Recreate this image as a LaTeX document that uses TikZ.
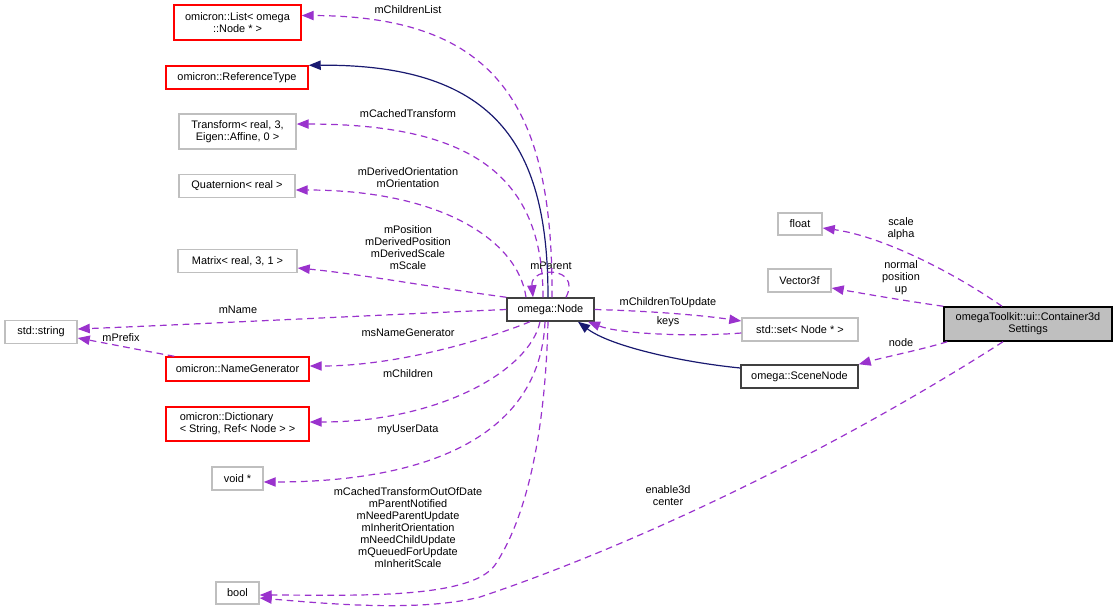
\documentclass[tikz,border=0pt]{standalone}
\usepackage{fontspec}
\setmainfont{Liberation Sans}
\usetikzlibrary{arrows.meta}
\definecolor{edgep}{HTML}{9A32CD}
\definecolor{inh}{HTML}{191970}
\definecolor{grayb}{HTML}{BFBFBF}
\definecolor{fillc}{HTML}{BFBFBF}
\definecolor{nodeb}{HTML}{404040}
\begin{document}
\begin{tikzpicture}[x=0.75pt,y=-0.75pt,
  every node/.style={font=\fontsize{8.2}{9}\selectfont, inner sep=0pt},
  box/.style 2 args={line width=1.1pt, minimum width=#1*0.75pt, minimum height=#2*0.75pt, align=center},
  graybox/.style={draw=grayb},
  redbox/.style={draw=red},
  blackbox/.style={draw=nodeb},
  mainbox/.style={draw=black, fill=fillc},
  lbl/.style={align=center},
  member/.style={draw=edgep, line width=0.9pt, dash pattern=on 5pt off 3.5pt, -{Triangle[length=9pt,width=7pt]}},
  inherit/.style={draw=inh, line width=0.9pt, -{Triangle[length=9pt,width=7pt]}},
]
\useasboundingbox (0,0) rectangle (1117,612);
% boxes
\node[box={127}{35}, redbox] (list) at (237.5,22.5) {omicron::List< omega\\::Node * >};
\node[box={142}{23}, redbox] (reftype) at (237,77.5) {omicron::ReferenceType};
\node[box={117}{35}, graybox] (transform) at (237.5,131.5) {Transform< real, 3,\\Eigen::Affine, 0 >};
\node[box={116}{23}, graybox] (quat) at (237,186) {Quaternion< real >};
\node[box={119}{23}, graybox] (matrix) at (237.5,261) {Matrix< real, 3, 1 >};
\node[box={72}{23}, graybox] (str) at (41,332) {std::string};
\node[box={143}{24}, redbox] (namegen) at (237.5,369) {omicron::NameGenerator};
\node[box={143}{34}, redbox, align=left] (dict) at (237.5,424) {omicron::Dictionary\\< String, Ref< Node > >};
\node[box={51}{23}, graybox] (voidp) at (237.5,478.5) {void *};
\node[box={43}{22}, graybox] (bool) at (237.5,593) {bool};
\node[box={87}{23}, blackbox] (node) at (550.5,309.5) {omega::Node};
\node[box={116}{23}, graybox] (set) at (800,329.5) {std::set< Node * >};
\node[box={117}{23}, blackbox] (scene) at (799.5,376.5) {omega::SceneNode};
\node[box={44}{22}, graybox] (float) at (800,224) {float};
\node[box={63}{23}, graybox] (vec) at (799.5,280.5) {Vector3f};
\node[box={168}{34}, mainbox] (cont) at (1028,324) {omegaToolkit::ui::Container3d\\Settings};
% labels
\node[lbl] (lchildrenlist) at (408,10) {mChildrenList};
\node[lbl] (lcachedtr) at (408,114) {mCachedTransform};
\node[lbl] (lorient) at (408,177.5) {mDerivedOrientation\\mOrientation};
\node[lbl] (lpos) at (408,247.5) {mPosition\\mDerivedPosition\\mDerivedScale\\mScale};
\node[lbl] (lparent) at (551,266) {mParent};
\node[lbl] (lname) at (238,310) {mName};
\node[lbl] (lprefix) at (121,337.5) {mPrefix};
\node[lbl] (lnamegen) at (408,333) {msNameGenerator};
\node[lbl] (lchildren) at (408,374) {mChildren};
\node[lbl] (luser) at (408,430) {myUserData};
\node[lbl] (lbools) at (408,528) {mCachedTransformOutOfDate\\mParentNotified\\mNeedParentUpdate\\mInheritOrientation\\mNeedChildUpdate\\mQueuedForUpdate\\mInheritScale};
\node[lbl] (lctu) at (668,302.5) {mChildrenToUpdate};
\node[lbl] (lkeys) at (668,322) {keys};
\node[lbl] (lscale) at (901,229) {scale\\alpha};
\node[lbl] (lnormal) at (901,278) {normal\\position\\up};
\node[lbl] (lnode) at (901,343) {node};
\node[lbl] (lenable) at (668,496) {enable3d\\center};
% edges from omega::Node
\draw[member] ([xshift=1.125pt]node.north) .. controls (553,110) and (500,16) .. ([yshift=5.25pt]list.east);
\draw[inherit] ([xshift=-1.875pt]node.north) .. controls (548,150) and (500,64) .. (reftype.north east);
\draw[member] ([xshift=-5.625pt]node.north) .. controls (543,175) and (470,124) .. ([yshift=5.6pt]transform.east);
\draw[member] ([xshift=-18.375pt]node.north) .. controls (518,240) and (440,190) .. ([yshift=-3pt]quat.east);
\draw[member] (node.north west) .. controls (430,287) and (360,274) .. ([yshift=-5.25pt]matrix.east);
\draw[member] ([xshift=11.625pt]node.north) .. controls (582,266) and (530,266) .. ([xshift=-13.125pt]node.north);
\draw[member] (node.west) .. controls (400,314) and (200,324) .. ([yshift=2.25pt]str.east);
\draw[member] ([xshift=6.75pt]namegen.north west) .. controls (140,350) and (110,344) .. ([yshift=-4.5pt]str.east);
\draw[member] ([xshift=-15.375pt]node.south) .. controls (490,338) and (400,366) .. ([yshift=2.25pt]namegen.east);
\draw[member] ([xshift=-7.875pt]node.south) .. controls (530,370) and (440,422) .. ([yshift=1.5pt]dict.east);
\draw[member] ([xshift=-4.125pt]node.south) .. controls (540,440) and (420,482) .. ([yshift=-2.6pt]voidp.east);
\draw[member] ([xshift=-1.875pt]node.south) .. controls (545,440) and (525,520) .. (495,565) .. controls (470,600) and (350,595) .. ([yshift=-1.5pt]bool.east);
\draw[member] (node.east) .. controls (650,311) and (700,315) .. ([yshift=6.375pt]set.west);
\draw[member] ([yshift=-2.625pt]set.west) .. controls (690,337) and (620,334) .. ([xshift=28.125pt]node.south);
\draw[inherit] ([yshift=6.375pt]scene.west) .. controls (680,362) and (610,346) .. ([xshift=20.625pt]node.south);
% edges from the container
\draw[member] ([xshift=-19.5pt]cont.north) .. controls (950,270) and (880,236) .. ([yshift=-3pt]float.east);
\draw[member] (cont.north west) .. controls (900,300) and (860,293) .. ([yshift=-5.625pt]vec.east);
\draw[member] ([xshift=3pt]cont.south west) .. controls (920,350) and (885,357) .. (scene.north east);
\draw[member] ([xshift=-18.75pt]cont.south) .. controls (850,440) and (650,540) .. (480,597) .. controls (420,612) and (330,604) .. ([yshift=-3.75pt]bool.east);
\end{tikzpicture}
\end{document}
